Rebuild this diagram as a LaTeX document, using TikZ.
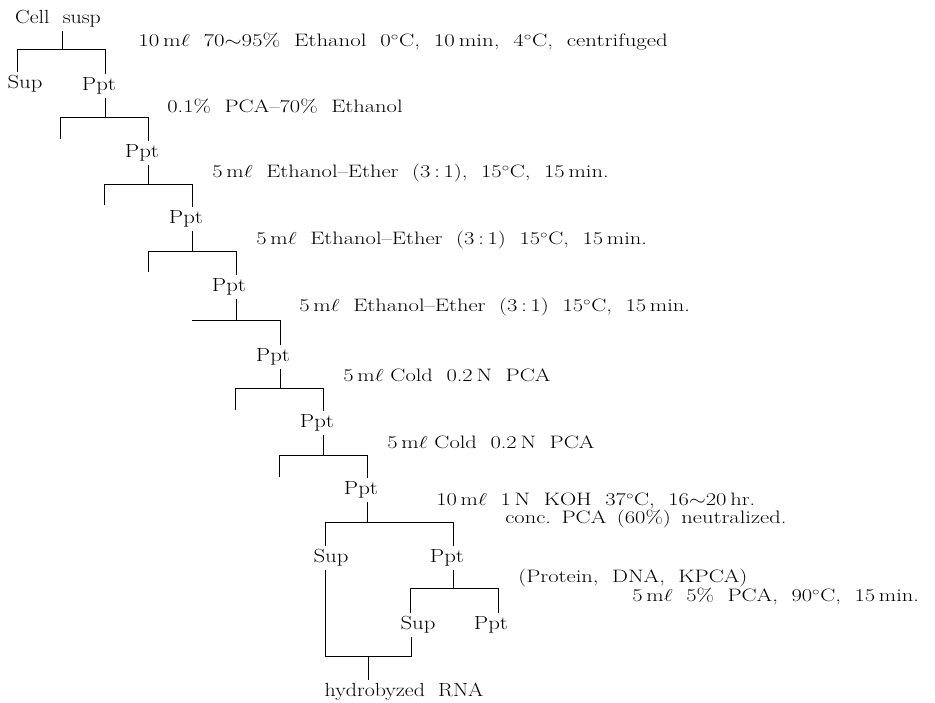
\documentclass[tikz,border=0pt]{standalone}
\usepackage{tikz}
\usepackage{graphicx}
\usetikzlibrary{calc, positioning}

% 横向拉宽的文字 (原图字体较宽)
\newcommand{\wide}[2]{\scalebox{#1}[1]{#2}}

\begin{document}
\begin{tikzpicture}[x=1pt, y=-1pt, line width=0.7pt,
  lbl/.style={inner sep=3pt, font=\fontsize{19}{23}\selectfont},
  note/.style={anchor=west, inner sep=0pt, font=\fontsize{18}{22}\selectfont}]
  \useasboundingbox (0,0) rectangle (935,703);

  % 各级分叉的横杠端点 (左, 中, 右)
  \coordinate (b0l) at (17,49);   \coordinate (b0m) at (62,49);   \coordinate (b0r) at (105,49);
  \coordinate (b1l) at (60,117);  \coordinate (b1m) at (105,117); \coordinate (b1r) at (148,117);
  \coordinate (b2l) at (104,184); \coordinate (b2m) at (148,184); \coordinate (b2r) at (192,184);
  \coordinate (b3l) at (148,251); \coordinate (b3m) at (192,251); \coordinate (b3r) at (236,251);
  \coordinate (b4l) at (192,320); \coordinate (b4m) at (236,320); \coordinate (b4r) at (280,320);
  \coordinate (b5l) at (235,388); \coordinate (b5m) at (280,388); \coordinate (b5r) at (323,388);
  \coordinate (b6l) at (279,455); \coordinate (b6m) at (323,455); \coordinate (b6r) at (367,455);
  \coordinate (b7l) at (325,522); \coordinate (b7m) at (367,522); \coordinate (b7r) at (453,522);
  \coordinate (b8l) at (410,588); \coordinate (b8m) at (453,588); \coordinate (b8r) at (498,588);
  \coordinate (b9l) at (325,656); \coordinate (b9m) at (368,656); \coordinate (b9r) at (411,656);

  % 舍弃的上清 (空的竖线末端)
  \coordinate (e1) at (60,139);  \coordinate (e2) at (104,205);
  \coordinate (e3) at (148,272); \coordinate (e5) at (235,410);
  \coordinate (e6) at (279,477);

  % 样品与沉淀
  \node[lbl] (cell) at (58,19) {\wide{1.15}{Cell\ \ susp}};
  \node[lbl] (sup0) at (25,84) {\wide{1.2}{Sup}};
  \node[lbl] (ppt1) at (99,86) {\wide{1.2}{Ppt}};
  \node[lbl] (ppt2) at (142,153) {\wide{1.2}{Ppt}};
  \node[lbl] (ppt3) at (186,219) {\wide{1.2}{Ppt}};
  \node[lbl] (ppt4) at (229,287) {\wide{1.2}{Ppt}};
  \node[lbl] (ppt5) at (273,357) {\wide{1.2}{Ppt}};
  \node[lbl] (ppt6) at (317,423) {\wide{1.2}{Ppt}};
  \node[lbl] (ppt7) at (361,490) {\wide{1.2}{Ppt}};
  \node[lbl] (supA) at (331,558) {\wide{1.2}{Sup}};
  \node[lbl] (pptA) at (447,558) {\wide{1.2}{Ppt}};
  \node[lbl] (supB) at (418,625) {\wide{1.2}{Sup}};
  \node[lbl] (pptB) at (491,625) {\wide{1.2}{Ppt}};
  \node[lbl] (rna)  at (404,692) {\wide{1.15}{hydrobyzed\ \ RNA}};

  % 处理条件
  \node[note] (n0) at (138,42) {\wide{1.27}{10\,m$\ell$\ \ 70$\sim$95\%\ \ Ethanol\ \ 0$^\circ$C,\ \ 10\,min,\ \ 4$^\circ$C,\ \ centrifuged}};
  \node[note] (n1) at (167,106) {\wide{1.25}{0.1\%\ \ PCA--70\%\ \ Ethanol}};
  \node[note] (n2) at (212,173) {\wide{1.25}{5\,m$\ell$\ \ Ethanol--Ether\ \ (3\,:\,1),\ \ 15$^\circ$C,\ \ 15\,min.}};
  \node[note] (n3) at (256,240) {\wide{1.25}{5\,m$\ell$\ \ Ethanol--Ether\ \ (3\,:\,1)\ \ 15$^\circ$C,\ \ 15\,min.}};
  \node[note] (n4) at (299,307) {\wide{1.25}{5\,m$\ell$\ \ Ethanol--Ether\ \ (3\,:\,1)\ \ 15$^\circ$C,\ \ 15\,min.}};
  \node[note] (n5) at (343,375) {\wide{1.25}{5\,m$\ell$\ Cold\ \ 0.2\,N\ \ PCA}};
  \node[note] (n6) at (387,442) {\wide{1.25}{5\,m$\ell$\ Cold\ \ 0.2\,N\ \ PCA}};
  \node[note] (n7) at (436,501) {\wide{1.25}{10\,m$\ell$\ \ 1\,N\ \ KOH\ \ 37$^\circ$C,\ \ 16$\sim$20\,hr.}};
  \node[note] (n7b) at (505,519) {\wide{1.25}{conc.\ \,PCA\ \,(60\%)\ \,neutralized.}};
  \node[note] (n8) at (518,578) {\wide{1.25}{(Protein,\ \ DNA,\ \ KPCA)}};
  \node[note] (n8b) at (632,597) {\wide{1.25}{5\,m$\ell$\ \ 5\%\ \ PCA,\ \ 90$^\circ$C,\ \ 15\,min.}};

  % 分叉线
  \draw (cell.south -| b0m) -- (b0m) (b0l) -- (b0r)
        (b0l) -- (sup0.north -| b0l) (b0r) -- (ppt1.north -| b0r);
  \draw (ppt1.south -| b1m) -- (b1m) (b1l) -- (b1r)
        (b1l) -- (e1) (b1r) -- (ppt2.north -| b1r);
  \draw (ppt2.south -| b2m) -- (b2m) (b2l) -- (b2r)
        (b2l) -- (e2) (b2r) -- (ppt3.north -| b2r);
  \draw (ppt3.south -| b3m) -- (b3m) (b3l) -- (b3r)
        (b3l) -- (e3) (b3r) -- (ppt4.north -| b3r);
  \draw (ppt4.south -| b4m) -- (b4m) (b4l) -- (b4r)
        (b4r) -- (ppt5.north -| b4r);
  \draw (ppt5.south -| b5m) -- (b5m) (b5l) -- (b5r)
        (b5l) -- (e5) (b5r) -- (ppt6.north -| b5r);
  \draw (ppt6.south -| b6m) -- (b6m) (b6l) -- (b6r)
        (b6l) -- (e6) (b6r) -- (ppt7.north -| b6r);
  \draw (ppt7.south -| b7m) -- (b7m) (b7l) -- (b7r)
        (b7l) -- (supA.north -| b7l) (b7r) -- (pptA.north -| b7r);
  \draw (pptA.south -| b8m) -- (b8m) (b8l) -- (b8r)
        (b8l) -- (supB.north -| b8l) (b8r) -- (pptB.north -| b8r);

  % 合并两份上清
  \draw (supA.south -| b9l) -- (b9l) -- (b9r) -- (supB.south -| b9r);
  \draw (b9m) -- (rna.north -| b9m);
\end{tikzpicture}
\end{document}
